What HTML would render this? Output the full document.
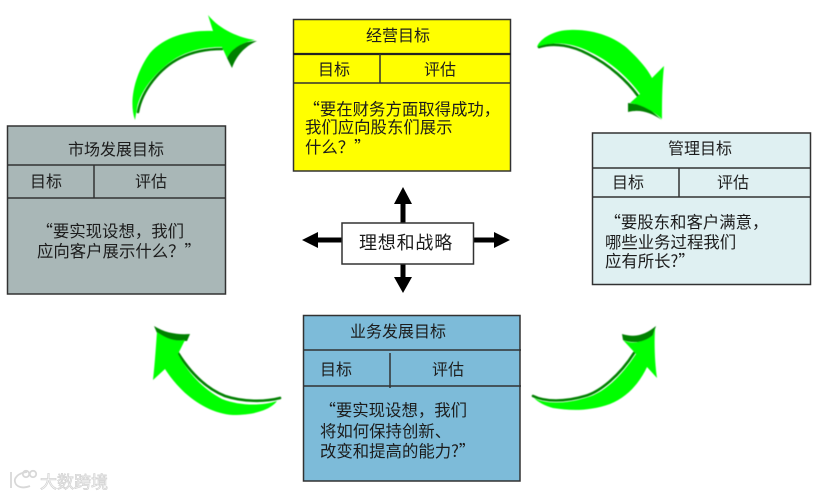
<!DOCTYPE html>
<html><head><meta charset="utf-8"><style>
html,body{margin:0;padding:0;background:#fff;width:818px;height:497px;overflow:hidden}
svg{display:block}
text{font-family:"Noto Sans CJK SC","Liberation Sans",sans-serif;font-size:16px;fill:#1c1c1c}
.p{font-size:16.4px}
.m{text-anchor:middle}
.b{stroke:#333;stroke-width:1.5}
.l{stroke:#333;stroke-width:1.5;fill:none}
.d{fill:none;stroke:#008000;stroke-width:2.6;stroke-linecap:round}
</style></head><body>
<svg width="818" height="497" viewBox="0 0 818 497" xmlns="http://www.w3.org/2000/svg">
<defs><filter id="s" x="-5%" y="-5%" width="110%" height="110%"><feGaussianBlur stdDeviation="0.5"/></filter>
<filter id="t" x="-5%" y="-5%" width="110%" height="110%"><feGaussianBlur stdDeviation="0.3"/></filter></defs>

<g filter="url(#s)">
<!-- arrow 1 -->
<path class="d" d="M222,49C205,49 192,52 180,58C160,68 142,90 138,112"/>
<path fill="#008000" d="M257,41C243,41 232,47 227,58L232,68C236,56 245,46 257,41Z"/>
<path fill="#00ff00" d="M135,120C128,100 136,72 150,53C165,36 190,30 213,31L208,15C220,30 240,38 255,40C243,42 232,48 227,58L222,47C205,47 192,50 180,56C160,66 140,90 137,108Z"/>
<!-- arrow 2 -->
<path class="d" d="M638,96C628,82 610,65 588,54C573,46 555,42 539,47"/>
<path fill="#008000" d="M628,112L628,103L645,105L662,120C650,112 640,109 628,112Z"/>
<path fill="#00ff00" d="M537,47C540,38 555,30 570,30C595,29 615,38 627,48C640,60 648,70 652,78L664,66C662,85 662,105 662,119C652,110 640,104 630,103L640,94C630,80 612,62 590,52C575,44 555,40 537,47Z"/>
<!-- arrow 3 -->
<path fill="#008000" d="M154,326C165,333 178,335 190,334L187,341C178,341 165,342 157,333Z"/>
<path class="d" d="M178,353C190,372 205,388 225,396C243,402 265,402 280,398"/>
<path fill="#00ff00" d="M157,332C165,338 175,342 185,340L178,354C188,373 203,389 222,399C240,406 262,406 277,401C272,408 258,415 233,415C215,414 196,404 182,390C172,380 167,372 165,369L153,380C155,362 156,345 157,332Z"/>
<!-- arrow 4 -->
<path class="d" d="M533,396C545,402 565,402 585,396C600,392 620,375 634,353"/>
<path fill="#008000" d="M622,334C635,338 645,335 656,326L652,338C645,342 632,344 623,340Z"/>
<path fill="#00ff00" d="M534,398C545,404 565,404 585,398C605,393 622,375 636,354L623,340C632,345 645,342 653,335L655,328C654,345 655,365 657,378L647,367C640,382 628,397 610,404C590,411 572,411 553,408C545,406 538,402 534,398Z"/>
</g>

<g filter="url(#t)">
<!-- top box -->
<rect x="293.5" y="19.5" width="217" height="151.5" fill="#ffff00" class="b"/>
<path d="M293,54H511" stroke="#222" stroke-width="2.2"/>
<path d="M293,83H511M380,54V83" class="l"/>
<text x="398" y="41" class="m">经营目标</text>
<text x="334" y="75" class="m">目标</text>
<text x="440" y="75" class="m">评估</text>
<text x="303.5" y="115" class="p">“要在财务方面取得成功，</text>
<text x="305" y="133" class="p">我们应向股东们展示</text>
<text x="305" y="153" class="p">什么？”</text>

<!-- left box -->
<rect x="7.5" y="126" width="218" height="168" fill="#a9b7b7" class="b"/>
<path d="M7,165H226M7,198H226M94,165V198" class="l"/>
<text x="116" y="155" class="m">市场发展目标</text>
<text x="46" y="187" class="m">目标</text>
<text x="151" y="187" class="m">评估</text>
<text x="36.5" y="237" class="p">“要实现设想，我们</text>
<text x="37" y="257" class="p">应向客户展示什么？”</text>

<!-- right box -->
<rect x="592.5" y="133" width="218" height="151.5" fill="#dff0f2" class="b"/>
<path d="M592,168H811M592,197H811M679,168V197" class="l"/>
<text x="700" y="154" class="m">管理目标</text>
<text x="628" y="188" class="m">目标</text>
<text x="733" y="188" class="m">评估</text>
<text x="604.5" y="228" class="p">“要股东和客户满意，</text>
<text x="605" y="248" class="p">哪些业务过程我们</text>
<text x="605" y="267" class="p">应有所长?”</text>

<!-- bottom box -->
<rect x="303.5" y="315.5" width="216.5" height="165.5" fill="#7dbbd9" class="b"/>
<path d="M303,350H521M303,386H521M390,353V388" class="l"/>
<text x="398" y="337" class="m">业务发展目标</text>
<text x="336" y="375" class="m">目标</text>
<text x="448" y="375" class="m">评估</text>
<text x="319.5" y="416" class="p">“要实现设想，我们</text>
<text x="320" y="437" class="p">将如何保持创新、</text>
<text x="320" y="457" class="p">改变和提高的能力?”</text>

<!-- centre -->
<path d="M403,223V202M403,264V279M342,240H317M473,240H495" stroke="#000" stroke-width="5" fill="none"/>
<path d="M403,187L412,204H394ZM403,293L394,277H412ZM302,240L318,232V248ZM510,240L494,232V248Z" fill="#000"/>
<rect x="342" y="223" width="131.5" height="41" fill="#fff" stroke="#333" stroke-width="1.5"/>
<text x="406" y="249" class="m" style="font-size:18px;letter-spacing:.8px">理想和战略</text>

<!-- watermark -->
<g fill="none" stroke="#d8d8d8" stroke-width="1.8">
<path d="M11,472V488M27,472C17,473 14,479 15,482C16,487 23,489 30,486"/>
<circle cx="26" cy="474" r="3.2"/><circle cx="33" cy="474" r="3.2"/>
</g>
<text x="40" y="488" style="font-size:17px;fill:#fff;stroke:#d4d4d4;stroke-width:.8px">大数跨境</text>
</g>
</svg>
</body></html>
